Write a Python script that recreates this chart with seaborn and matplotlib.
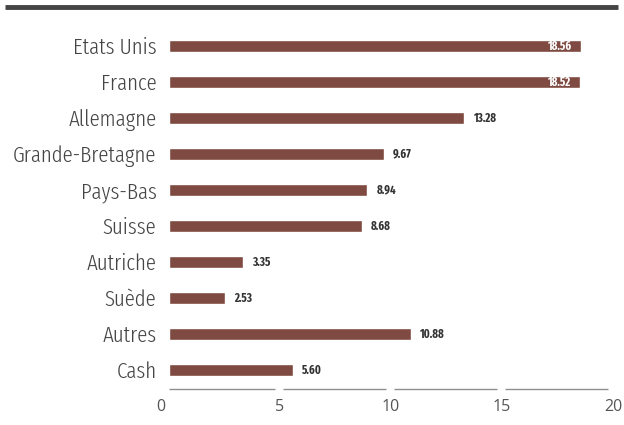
import matplotlib
matplotlib.use("Agg")
import matplotlib.pyplot as plt
import seaborn as sns
import pandas as pd
from matplotlib.transforms import ScaledTranslation

countries = ["Etats Unis", "France", "Allemagne", "Grande-Bretagne", "Pays-Bas",
             "Suisse", "Autriche", "Suède", "Autres", "Cash"]
weights = [18.56, 18.52, 13.28, 9.67, 8.94, 8.68, 3.35, 2.53, 10.88, 5.60]
xticks = [0, 5, 10, 15, 20]

bar_color = "#7E4A41"
text_color = "#454545"
label_font = "Fira Sans Extra Condensed"
value_font = "Fira Sans Extra Condensed"


def main():
    df = pd.DataFrame({"pays": countries, "poids": weights})

    sns.set_style("white")
    fig = plt.figure(figsize=(6.24, 4.25), dpi=100)
    ax = fig.add_axes([169 / 624, 1 - 389 / 425, (613 - 169) / 624, (389 - 28) / 425])

    sns.barplot(df, x="poids", y="pays", color=bar_color, saturation=1,
                width=0.34, ax=ax)

    ax.set_xlim(0, 20)
    ax.set_ylim(9.53, -0.5)
    ax.set_xlabel("")
    ax.set_ylabel("")
    for s in ax.spines.values():
        s.set_visible(False)

    ax.set_xticks(xticks)
    ax.set_xticklabels([str(t) for t in xticks], fontsize=11.5, color="#555555",
                       family="Open Sans")
    ax.tick_params(axis="x", length=0, pad=7)
    ax.tick_params(axis="y", length=0, pad=9)
    # the "0" sits a little left of the axis origin in the original
    zero = ax.get_xticklabels()[0]
    zero.set_transform(zero.get_transform() + ScaledTranslation(-8 / 100, 0, fig.dpi_scale_trans))
    for lbl in ax.get_yticklabels():
        lbl.set_fontsize(16.4)
        lbl.set_color(text_color)
        lbl.set_family(label_font)
        lbl.set_fontweight(300)

    # broken baseline between ticks
    for a, b in zip(xticks[:-1], xticks[1:]):
        ax.plot([a + (0.12 if a > 0 else 0), b - 0.22], [9.53, 9.53], color="#8f8f8f",
                lw=1, clip_on=False, solid_capstyle="butt")

    # value labels
    for i, v in enumerate(weights):
        if v > 15:
            ax.text(v - 0.45, i, f"{v:.2f}", ha="right", va="center", color="white",
                    fontsize=8.5, fontweight="bold", family=value_font)
        else:
            ax.text(v + 0.4, i, f"{v:.2f}", ha="left", va="center", color="#333333",
                    fontsize=8.5, fontweight="bold", family=value_font)

    # thick top rule
    fig.add_artist(plt.Line2D([5 / 624, 618 / 624], [1 - 7 / 425, 1 - 7 / 425],
                              color="#444444", lw=3.5, solid_capstyle="butt"))

    fig.savefig("out.png", dpi=100, facecolor="white")
    plt.close(fig)


if __name__ == "__main__":
    main()
